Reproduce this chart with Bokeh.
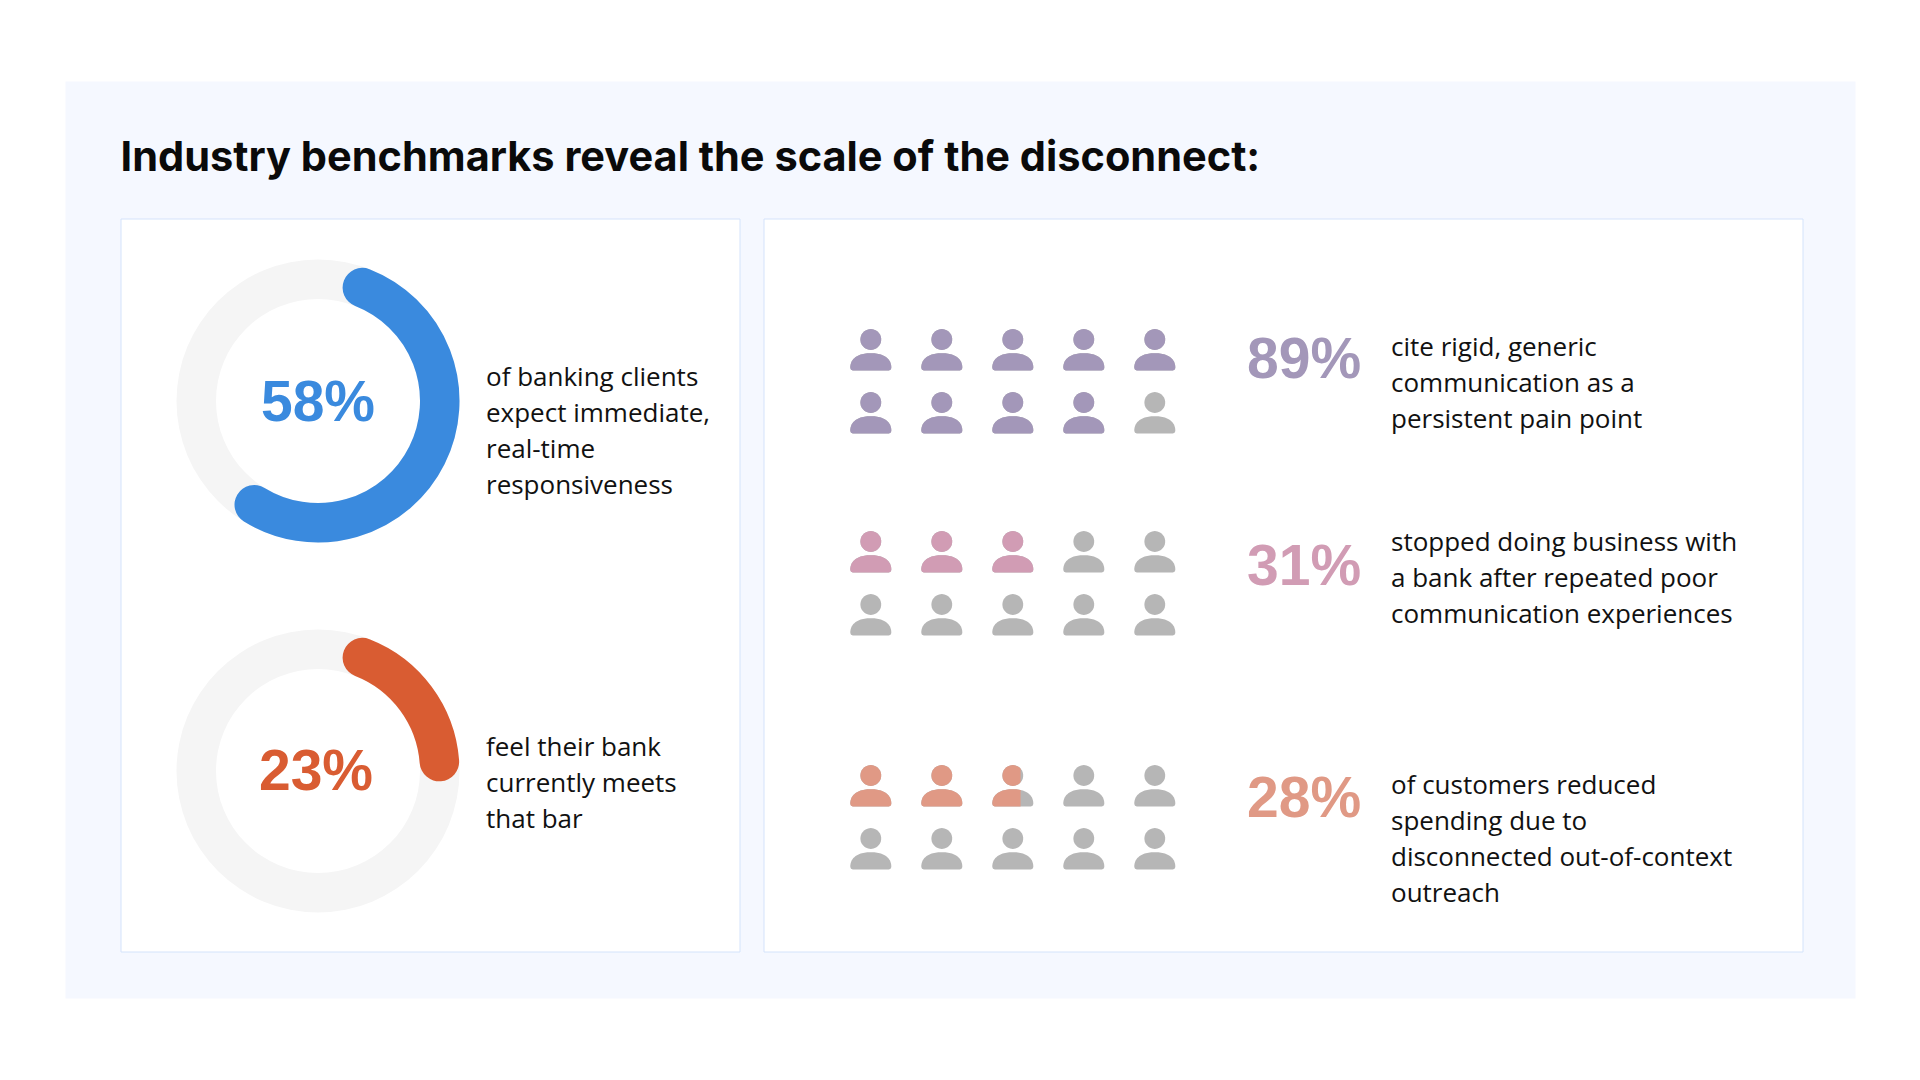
import math
from bokeh.plotting import figure
from bokeh.models import Range1d
from bokeh.core.properties import value
from bokeh.embed import file_html
from bokeh.resources import INLINE

TITLE = "Industry benchmarks reveal the scale of the disconnect:"
donut_values = [58, 23]
donut_labels = ["58%", "23%"]
donut_colors = ["#3a8ade", "#d95c32"]
donut_captions = [
    ["of banking clients", "expect immediate,", "real-time", "responsiveness"],
    ["feel their bank", "currently meets", "that bar"],
]
people_filled = [9, 3, 2.69]
people_labels = ["89%", "31%", "28%"]
people_colors = ["#a397b9", "#d19cb4", "#e09985"]
people_captions = [
    ["cite rigid, generic", "communication as a", "persistent pain point"],
    ["stopped doing business with", "a bank after repeated poor", "communication experiences"],
    ["of customers reduced", "spending due to", "disconnected out-of-context", "outreach"],
]
GRAY = "#b6b6b6"
TITLE_FONT = "Inter"
NUM_FONT = "Liberation Sans"
BODY = "Open Sans"
K = 0.38  # baseline correction, in em

p = figure(width=1904, height=1064, output_backend="svg", toolbar_location=None,
           x_range=Range1d(0, 1904), y_range=Range1d(-1064, 0), min_border=0,
           outline_line_color=None, background_fill_color="white")
p.axis.visible = False
p.grid.visible = False


def Y(y):
    return -y


def rect(x0, y0, x1, y1, fill, line=None):
    p.quad(left=[x0], right=[x1], top=[Y(y0)], bottom=[Y(y1)], fill_color=fill,
           line_color=line, line_width=1)


def text(x, y, s, size, color, font, style="normal", align="left"):
    p.text(x=[x], y=[Y(y - K * size)], text=[s], text_font=value(font),
           text_font_size=f"{size}px", text_color=color, text_font_style=style,
           text_align=align, text_baseline="alphabetic")


rect(65, 81, 1855, 998, "#f5f8ff")
rect(120.5, 218.5, 739.5, 951.5, "white", "#d4e3fb")
rect(763.5, 218.5, 1802.5, 951.5, "white", "#d4e3fb")
text(120, 171, TITLE, 41.5, "#0a0a0a", TITLE_FONT, "bold")

CX, R_OUT, R_IN = 317.5, 141.5, 102
donut_cy = [400.5, 770.5]
num_base = [421.7, 791.5]
num_dx = [0, -2]
cap_y0 = [385, 755]
START = 12.07
R_MID = (R_OUT + R_IN) / 2
W = R_OUT - R_IN
CAP = math.degrees(W / 2 / R_MID)
for i, val in enumerate(donut_values):
    cy = donut_cy[i]
    p.annular_wedge(x=[CX], y=[Y(cy)], inner_radius=R_IN, outer_radius=R_OUT, start_angle=0,
                    end_angle=2 * math.pi, fill_color="#f5f5f5", line_color=None)
    a0 = START + CAP
    a1 = START + val * 3.6 - CAP
    p.arc(x=[CX], y=[Y(cy)], radius=R_MID, start_angle=math.radians(90 - a0),
          end_angle=math.radians(90 - a1), direction="clock", line_color=donut_colors[i],
          line_width=W, line_cap="round")
    text(CX + num_dx[i], num_base[i], donut_labels[i], 57, donut_colors[i], NUM_FONT, "bold", "center")
    for j, s in enumerate(donut_captions[i]):
        text(485.5, cap_y0[i] + 36 * j, s, 26, "#111111", BODY)

COLS = [870.3 + 71 * k for k in range(5)]
ROW_HEAD_Y = [[339, 402], [541, 604], [775, 838]]


def icon_polys(cx, hy):
    hx = [cx + 10.4 * math.cos(t * math.pi / 24) for t in range(48)]
    hh = [hy + 10.4 * math.sin(t * math.pi / 24) for t in range(48)]
    top = hy + 13.7
    bot = hy + 31
    hw = 20.5
    e = 0.87
    bx, by = [], []
    for t in range(0, 49):
        a = math.pi * t / 48
        c, s = math.cos(a), math.sin(a)
        bx.append(cx - hw * math.copysign(abs(c) ** e, c))
        by.append(bot - 2.5 - (bot - 2.5 - top) * s ** e)
    bx += [cx + hw - 0.7, cx + hw - 2.5, cx - hw + 2.5, cx - hw + 0.7]
    by += [bot - 0.7, bot, bot, bot - 0.7]
    return (hx, hh), (bx, by)


for r, filled in enumerate(people_filled):
    n = 0
    for hy in ROW_HEAD_Y[r]:
        for cx in COLS:
            head, body = icon_polys(cx, hy)
            for xs, ys in (head, body):
                p.patch(x=xs, y=[Y(v) for v in ys], fill_color=GRAY, line_color=None)
            share = max(0.0, min(1.0, filled - n))
            if share > 0:
                limit = cx - 20.5 + 41 * share
                for xs, ys in (head, body):
                    p.patch(x=[min(v, limit) for v in xs], y=[Y(v) for v in ys],
                            fill_color=people_colors[r], line_color=None)
            n += 1

pct_base = [379, 586.5, 818]
cap_base = [355, 550.5, 793.7]
for r in range(3):
    text(1246.5, pct_base[r], people_labels[r], 57, people_colors[r], NUM_FONT, "bold")
    for j, s in enumerate(people_captions[r]):
        text(1390.5, cap_base[r] + 36 * j, s, 26, "#111111", BODY)

open("out.html", "w").write(file_html(p, INLINE))
